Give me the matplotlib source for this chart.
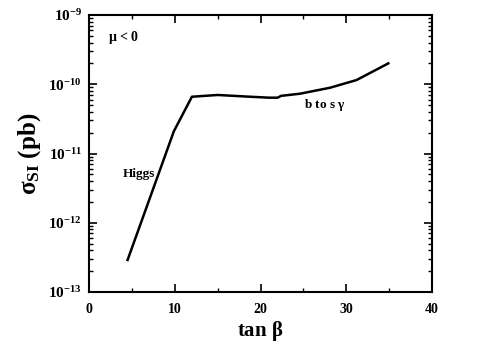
import matplotlib
matplotlib.use("Agg")
import matplotlib.pyplot as plt
from matplotlib.ticker import LogLocator, MultipleLocator

plt.rcParams["font.family"] = ["Liberation Serif", "DejaVu Serif"]
plt.rcParams["font.weight"] = "bold"
plt.rcParams["mathtext.fontset"] = "custom"
plt.rcParams["mathtext.rm"] = "Liberation Serif:bold"
plt.rcParams["mathtext.it"] = "Liberation Serif:bold"
plt.rcParams["mathtext.bf"] = "Liberation Serif:bold"

# curve
tan_beta = [4.5, 9.9, 12.0, 15.0, 18.8, 21.0, 22.0, 22.4, 24.6, 28.1, 31.2, 34.9]
sigma_si = [2.9e-13, 2.1e-11, 6.6e-11, 7.0e-11, 6.6e-11, 6.4e-11, 6.4e-11,
            6.8e-11, 7.3e-11, 8.9e-11, 1.15e-10, 2.0e-10]

x_ticks = [0, 10, 20, 30, 40]
y_ticks = [1e-13, 1e-12, 1e-11, 1e-10, 1e-9]
y_tick_labels = [r"$10^{-13}$", r"$10^{-12}$", r"$10^{-11}$", r"$10^{-10}$", r"$10^{-9}$"]

fig = plt.figure(figsize=(5.01, 3.46), dpi=100)
ax = fig.add_axes([89 / 501, 1 - 292 / 346, (432 - 89) / 501, (292 - 15) / 346])

ax.plot(tan_beta, sigma_si, color="black", linewidth=1.8)

ax.set_yscale("log")
ax.set_xlim(0, 40)
ax.set_ylim(1e-13, 1e-9)

ax.set_xticks(x_ticks)
ax.xaxis.set_minor_locator(MultipleLocator(5))
ax.set_yticks(y_ticks)
ax.set_yticklabels(y_tick_labels)
ax.yaxis.set_minor_locator(LogLocator(base=10, subs=range(2, 10)))

ax.tick_params(which="both", direction="in", top=True, right=True)
ax.tick_params(axis="y", labelsize=11, pad=5)
ax.tick_params(axis="x", labelsize=10, pad=8)
ax.tick_params(which="major", length=6, width=1.2)
ax.tick_params(which="minor", length=3, width=1)
for s in ax.spines.values():
    s.set_linewidth(1.5)

ax.set_xlabel(r"tan $\beta$", fontsize=15, fontweight="bold", labelpad=2)
ax.set_ylabel(r"$\sigma_{\rm SI}$ (pb)", fontsize=18, fontweight="bold", labelpad=4)

ax.text(2.2, 4.8e-10, r"$\mu$ < 0", fontsize=10, ha="left", va="center")
ax.text(5.8, 5.0e-12, "Higgs", fontsize=9.5, ha="center", va="center")
ax.text(27.5, 5.0e-11, r"b to s $\gamma$", fontsize=9.5, ha="center", va="center")

fig.savefig("out.png", dpi=100)
